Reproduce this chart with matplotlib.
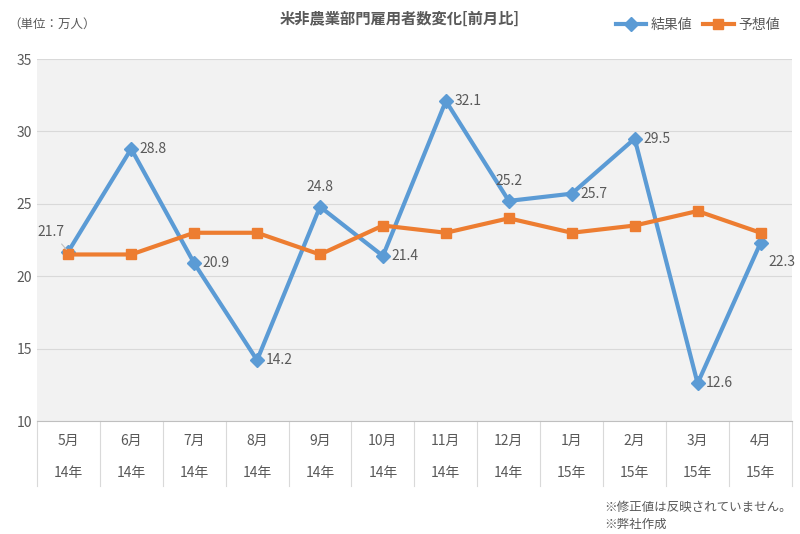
import matplotlib
matplotlib.use("Agg")
import matplotlib.pyplot as plt
from matplotlib.lines import Line2D

plt.rcParams["font.family"] = ["Noto Sans CJK JP"]

months = ["5月", "6月", "7月", "8月", "9月", "10月", "11月", "12月", "1月", "2月", "3月", "4月"]
years = ["14年"] * 8 + ["15年"] * 4
results = [21.7, 28.8, 20.9, 14.2, 24.8, 21.4, 32.1, 25.2, 25.7, 29.5, 12.6, 22.3]
forecast = [21.5, 21.5, 23.0, 23.0, 21.5, 23.5, 23.0, 24.0, 23.0, 23.5, 24.5, 23.0]
label_pos = ["ul", "r", "r", "r", "a", "r", "r", "a", "r", "r", "r", "rb"]

blue = "#5b9bd5"
orange = "#ed7d31"
txt = "#595959"

fig = plt.figure(figsize=(8, 5.34), dpi=100)
ax = fig.add_axes([0.046, 0.2116, 0.944, 0.6779])
ax.set_facecolor("#f2f2f2")
x = [i + 0.5 for i in range(len(months))]
ax.plot(x, results, color=blue, lw=3, marker="D", ms=7, label="結果値", zorder=3)
ax.plot(x, forecast, color=orange, lw=3, marker="s", ms=7, label="予想値", zorder=3)
ax.set_xlim(0, 12)
ax.set_ylim(10, 35)
ax.set_yticks(range(10, 36, 5))
ax.tick_params(axis="y", length=0, labelsize=10, colors=txt)
ax.set_xticks([])
ax.grid(axis="y", color="#d9d9d9", lw=0.8)
ax.set_axisbelow(True)
for s in ["top", "right", "left"]:
    ax.spines[s].set_visible(False)
ax.spines["bottom"].set_color("#bfbfbf")

for xi, v, p in zip(x, results, label_pos):
    if p == "r":
        ax.annotate(f"{v}", (xi, v), xytext=(6, 0), textcoords="offset points", va="center", ha="left", color=txt, fontsize=10)
    elif p == "a":
        ax.annotate(f"{v}", (xi, v), xytext=(0, 9), textcoords="offset points", va="bottom", ha="center", color=txt, fontsize=10)
    elif p == "ul":
        ax.annotate(f"{v}", (xi, v), xytext=(-22, 14), textcoords="offset points", va="center", ha="left", color=txt, fontsize=10,
                    arrowprops=dict(arrowstyle="-", color="#bfbfbf", lw=0.8))
    elif p == "rb":
        ax.annotate(f"{v}", (xi, v), xytext=(6, -14), textcoords="offset points", va="center", ha="left", color=txt, fontsize=10)

tr = ax.get_xaxis_transform()
for i, (m, yv) in enumerate(zip(months, years)):
    ax.text(i + 0.5, -0.055, m, transform=tr, ha="center", va="center", fontsize=10, color=txt)
    ax.text(i + 0.5, -0.145, yv, transform=tr, ha="center", va="center", fontsize=10, color=txt)
for i in range(13):
    ax.add_line(Line2D([i, i], [0, -0.18], transform=tr, color="#d9d9d9", lw=0.8, clip_on=False))

fig.text(0.5, 0.965, "米非農業部門雇用者数変化[前月比]", ha="center", va="center", fontsize=11, fontweight="bold", color=txt)
fig.text(0.01, 0.955, "（単位：万人）", ha="left", va="center", fontsize=9, color=txt)
ax.legend(loc="lower right", bbox_to_anchor=(1.0, 1.04), ncol=2, frameon=False, fontsize=10,
          handlelength=2.2, columnspacing=0.8, handletextpad=0.3, labelcolor=txt)
fig.text(0.755, 0.05, "※修正値は反映されていません。", ha="left", va="center", fontsize=9, color=txt)
fig.text(0.755, 0.018, "※弊社作成", ha="left", va="center", fontsize=9, color=txt)

fig.savefig("out.png", dpi=100)
